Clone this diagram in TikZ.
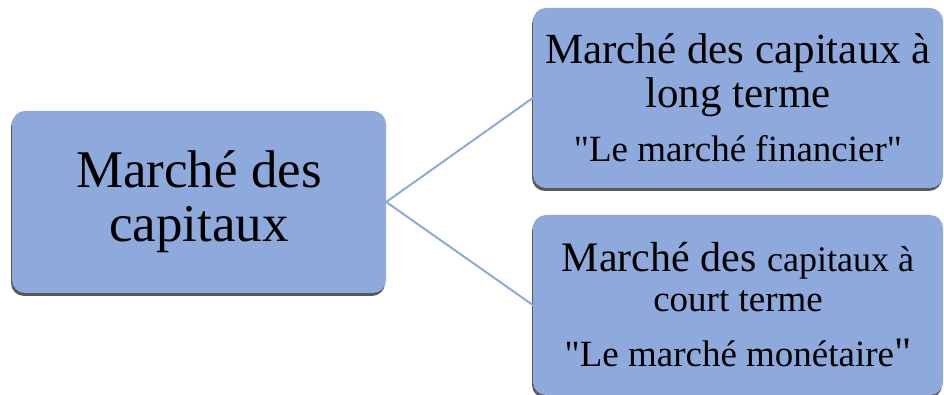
\documentclass[tikz,border=0pt]{standalone}
\usepackage{fontspec}
\setmainfont{Liberation Serif}[Ligatures=TeXOff]
\usetikzlibrary{shadows}
\definecolor{boxblue}{HTML}{8EA9DB}
\begin{document}
\begin{tikzpicture}[x=1pt,y=1pt,line cap=round,line join=round,
  marchebox/.style={rectangle,rounded corners=13pt,fill=boxblue,align=center,inner sep=0pt,
    drop shadow={shadow xshift=-1pt,shadow yshift=-3pt,fill=black!65,opacity=1}},
  link/.style={draw=boxblue,line width=2pt}]
  \useasboundingbox (0,0) rectangle (944,395);
  \clip (0,0) rectangle (944,395);

  % Main market
  \node[marchebox,minimum width=374pt,minimum height=182pt,
    font=\fontsize{53}{54}\selectfont] (capitaux) at (199,193)
    {Marché des\\capitaux};

  % Long term
  \node[marchebox,minimum width=410pt,minimum height=180pt,
    font=\fontsize{43}{44}\selectfont] (longterme) at (738,297)
    {Marché des capitaux à\\long terme\\[10pt]
     {\fontsize{37}{44}\selectfont "Le marché financier"}};

  % Short term
  \node[marchebox,minimum width=410pt,minimum height=180pt,
    font=\fontsize{42}{40}\selectfont] (courtterme) at (738,90)
    {Marché des {\fontsize{36}{40}\selectfont capitaux à}\\
     {\fontsize{37}{40}\selectfont court terme}\\[15pt]
     {\fontsize{37}{40}\selectfont "Le marché monétaire}"};

  % Links
  \draw[link] (capitaux.east) -- (longterme.west);
  \draw[link] (capitaux.east) -- (courtterme.west);
\end{tikzpicture}
\end{document}
